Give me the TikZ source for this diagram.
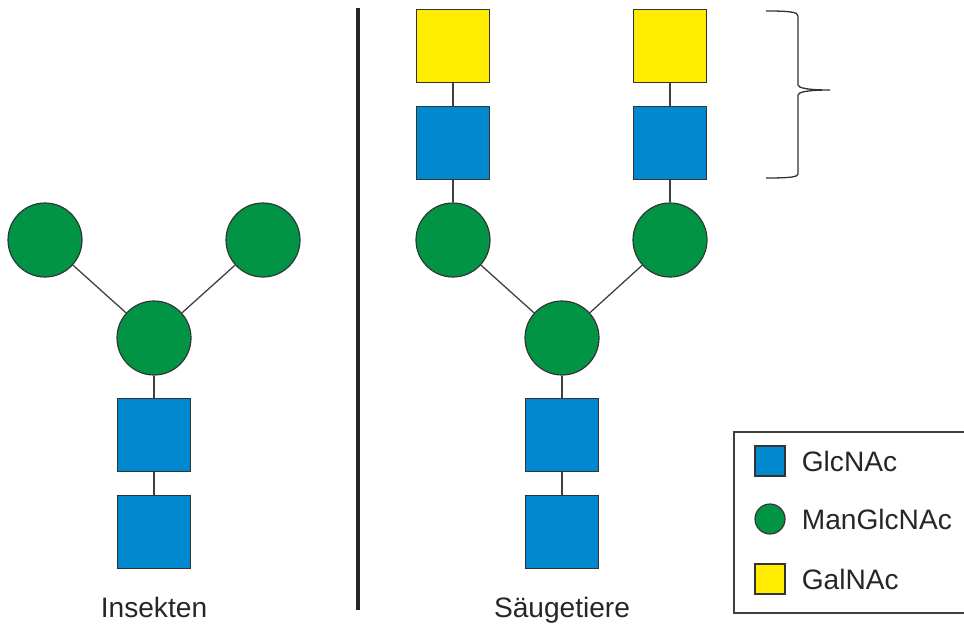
\documentclass[tikz,border=0pt]{standalone}
\usepackage{fontspec}
\setmainfont{Liberation Sans}
\usetikzlibrary{positioning}

\definecolor{glcblue}{RGB}{0,137,207}
\definecolor{mangreen}{RGB}{0,148,68}
\definecolor{galyellow}{RGB}{255,236,0}

\begin{document}
\begin{tikzpicture}[
    x=0.03cm, y=-0.03cm,
    node distance=0.68cm,
    every node/.style={font=\fontsize{24}{28}\selectfont},
    sqnode/.style={
        rectangle,
        draw=black!80,
        line width=1pt,
        minimum size=2.19cm,
        inner sep=0pt
    },
    circnode/.style={
        circle,
        draw=black!80,
        line width=1pt,
        minimum size=2.22cm,
        inner sep=0pt
    },
    keytext/.style={inner sep=0pt, text=black!85},
    link/.style={draw=black!75, line width=1.1pt}
]
\useasboundingbox (0,0) rectangle (964,623);

% insects
\node[circnode, fill=mangreen] (icore) at (154,338) {};
\node[circnode, fill=mangreen] (ileft) at (45,240) {};
\node[circnode, fill=mangreen] (iright) at (263,240) {};
\node[sqnode, fill=glcblue, below=of icore] (iglcA) {};
\node[sqnode, fill=glcblue, below=of iglcA] (iglcB) {};
\node[anchor=base, text=black!85] (insect) at (154,617) {Insekten};

\draw[link] (icore) -- (ileft);
\draw[link] (icore) -- (iright);
\draw[link] (icore) -- (iglcA);
\draw[link] (iglcA) -- (iglcB);

% divider
\draw[line width=3pt, black!85] (358,8) -- (358,610);

% mammals
\node[circnode, fill=mangreen] (mcore) at (562,338) {};
\node[circnode, fill=mangreen] (mleft) at (453,240) {};
\node[circnode, fill=mangreen] (mright) at (670,240) {};
\node[sqnode, fill=glcblue, below=of mcore] (mglcA) {};
\node[sqnode, fill=glcblue, below=of mglcA] (mglcB) {};
\node[sqnode, fill=glcblue, above=of mleft] (mglcL) {};
\node[sqnode, fill=galyellow, above=of mglcL] (mgalL) {};
\node[sqnode, fill=glcblue, above=of mright] (mglcR) {};
\node[sqnode, fill=galyellow, above=of mglcR] (mgalR) {};
\node[anchor=base, text=black!85] (mammal) at (562,617) {Säugetiere};

\draw[link] (mcore) -- (mleft);
\draw[link] (mcore) -- (mright);
\draw[link] (mcore) -- (mglcA);
\draw[link] (mglcA) -- (mglcB);
\draw[link] (mleft) -- (mglcL);
\draw[link] (mglcL) -- (mgalL);
\draw[link] (mright) -- (mglcR);
\draw[link] (mglcR) -- (mgalR);

% brace over the outer arms
\draw[black!80, line width=1.1pt]
    (766,11) .. controls (790,11) and (798,12) .. (798,16) -- (798,85)
    .. controls (798,88) and (808,90) .. (830,90)
    .. controls (808,90) and (798,92) .. (798,95) -- (798,174)
    .. controls (798,177) and (790,178) .. (766,178);

% legend
\draw[black!75, line width=0.9pt] (734,432) rectangle (966,613);
\node[sqnode, fill=glcblue, minimum size=0.9cm] (keyglc) at (770,461) {};
\node[circnode, fill=mangreen, minimum size=0.9cm] (keyman) at (770,519) {};
\node[sqnode, fill=galyellow, minimum size=0.9cm] (keygal) at (770,579) {};
\node[keytext, right=0.48cm of keyglc] (glctext) {GlcNAc};
\node[keytext, right=0.48cm of keyman] (mantext) {ManGlcNAc};
\node[keytext, right=0.48cm of keygal] (galtext) {GalNAc};

\end{tikzpicture}
\end{document}
